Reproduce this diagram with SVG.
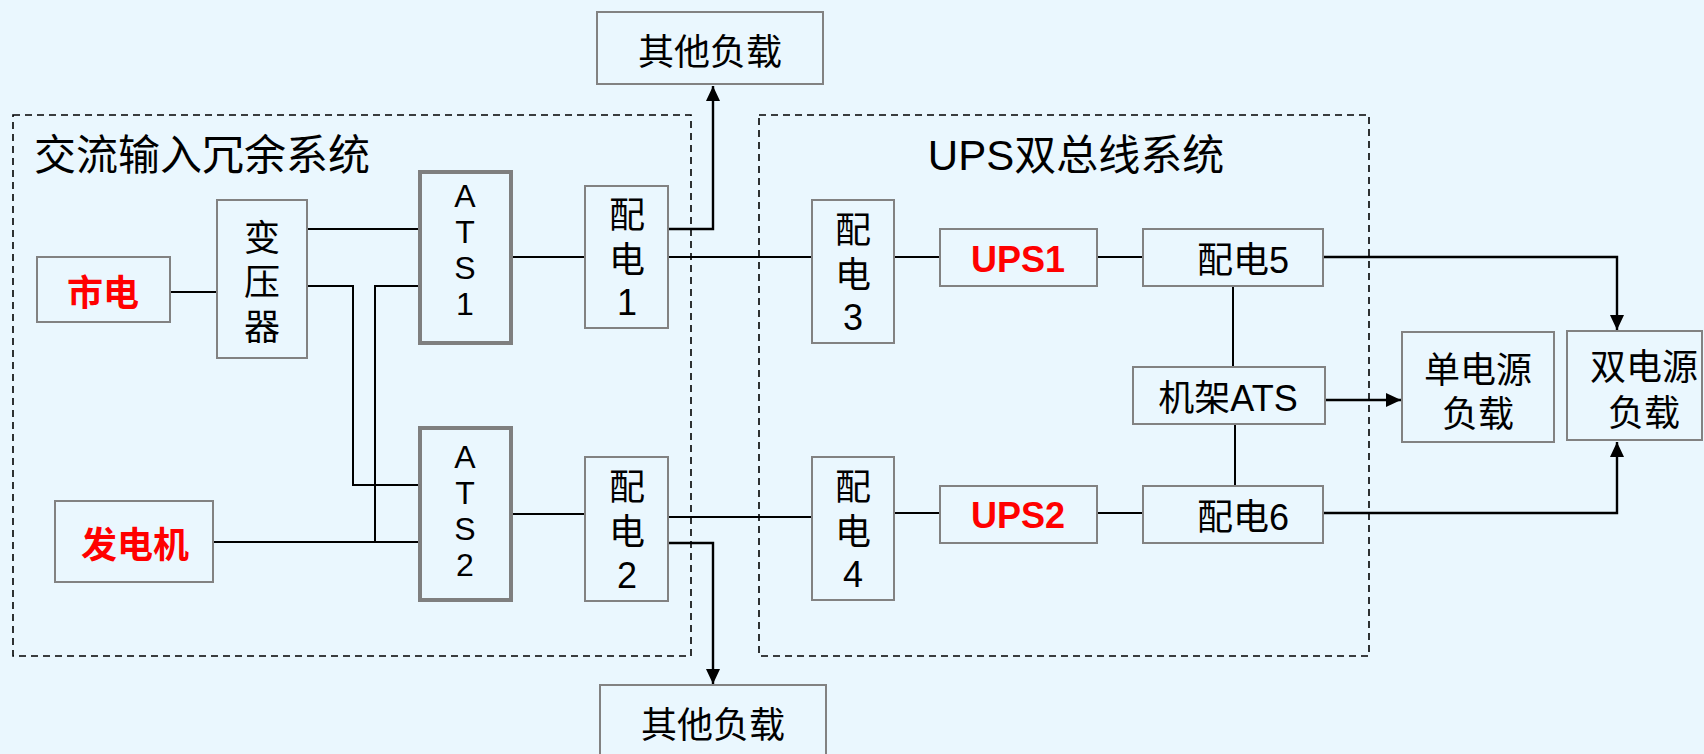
<svg xmlns="http://www.w3.org/2000/svg" width="1704" height="754" viewBox="0 0 1704 754">
<defs>
<marker id="arr" markerUnits="userSpaceOnUse" markerWidth="16" markerHeight="16" refX="15" refY="7" orient="auto">
<path d="M0,0 L15,7 L0,14 z" fill="#000"/>
</marker>
<style>
text{font-family:"Liberation Sans","Noto Sans CJK SC",sans-serif;font-size:36px;fill:#000;text-anchor:middle}
.t{font-size:42px}
.a{font-size:32px}
.red{fill:#f00;font-weight:bold}
.box{fill:none;stroke:#828282;stroke-width:2}
.ats{fill:none;stroke:#7f7f7f;stroke-width:4}
.dash{fill:none;stroke:#000;stroke-width:1.6;stroke-dasharray:7 5}
.ln{fill:none;stroke:#000;stroke-width:2}
.ar{fill:none;stroke:#000;stroke-width:2.4;marker-end:url(#arr)}
</style>
</defs>
<rect x="0" y="0" width="1704" height="754" fill="#eaf7fe"/>
<rect class="dash" x="13" y="115" width="678" height="541"/>
<rect class="dash" x="759" y="115" width="610" height="541"/>
<text class="t" x="34" y="170" style="text-anchor:start">交流输入冗余系统</text>
<text class="t" x="1076" y="170">UPS双总线系统</text>
<g id="connectors">
<path class="ln" d="M170 292 H217"/>
<path class="ln" d="M307 229 H420"/>
<path class="ln" d="M307 286 H353 V485 H420"/>
<path class="ln" d="M213 542 H420"/>
<path class="ln" d="M375 542 V286 H420"/>
<path class="ln" d="M511 257 H585"/>
<path class="ln" d="M511 514 H585"/>
<path class="ar" d="M668 229 H713 V86"/>
<path class="ln" d="M668 257 H812"/>
<path class="ln" d="M668 517 H812"/>
<path class="ar" d="M668 543 H713 V684"/>
<path class="ln" d="M894 257 H940"/>
<path class="ln" d="M894 513 H940"/>
<path class="ln" d="M1097 257 H1143"/>
<path class="ln" d="M1097 513 H1143"/>
<path class="ar" d="M1323 257 H1617 V330"/>
<path class="ar" d="M1323 513 H1617 V442"/>
<path class="ln" d="M1233 286 V367"/>
<path class="ln" d="M1235 424 V486"/>
<path class="ar" d="M1325 400 H1401"/>
</g>
<g id="other1"><rect class="box" x="597" y="12" width="226" height="72"/><text x="710" y="65">其他负载</text></g>
<g id="mains"><rect class="box" x="37" y="257" width="133" height="65"/><text class="red" x="103" y="306">市电</text></g>
<g id="transformer"><rect class="box" x="217" y="200" width="90" height="158"/><text x="262" y="251">变<tspan x="262" y="295">压</tspan><tspan x="262" y="340">器</tspan></text></g>
<g id="ats1"><rect class="ats" x="420" y="172" width="91" height="171"/><text class="a" x="465" y="207">A<tspan x="465" y="243">T</tspan><tspan x="465" y="279">S</tspan><tspan x="465" y="315">1</tspan></text></g>
<g id="pd1"><rect class="box" x="585" y="186" width="83" height="142"/><text x="627" y="228">配<tspan x="627" y="273">电</tspan><tspan x="627" y="315">1</tspan></text></g>
<g id="generator"><rect class="box" x="55" y="501" width="158" height="81"/><text class="red" x="135" y="558">发电机</text></g>
<g id="ats2"><rect class="ats" x="420" y="428" width="91" height="172"/><text class="a" x="465" y="468">A<tspan x="465" y="504">T</tspan><tspan x="465" y="540">S</tspan><tspan x="465" y="576">2</tspan></text></g>
<g id="pd2"><rect class="box" x="585" y="457" width="83" height="144"/><text x="627" y="500">配<tspan x="627" y="545">电</tspan><tspan x="627" y="588">2</tspan></text></g>
<g id="pd3"><rect class="box" x="812" y="200" width="82" height="143"/><text x="853" y="243">配<tspan x="853" y="288">电</tspan><tspan x="853" y="330">3</tspan></text></g>
<g id="pd4"><rect class="box" x="812" y="457" width="82" height="143"/><text x="853" y="500">配<tspan x="853" y="545">电</tspan><tspan x="853" y="587">4</tspan></text></g>
<g id="ups1"><rect class="box" x="940" y="229" width="157" height="57"/><text class="red" x="1018" y="272">UPS1</text></g>
<g id="ups2"><rect class="box" x="940" y="486" width="157" height="57"/><text class="red" x="1018" y="528">UPS2</text></g>
<g id="pd5"><rect class="box" x="1143" y="229" width="180" height="57"/><text x="1243" y="273">配电5</text></g>
<g id="pd6"><rect class="box" x="1143" y="486" width="180" height="57"/><text x="1243" y="530">配电6</text></g>
<g id="rackats"><rect class="box" x="1133" y="367" width="192" height="57"/><text x="1228" y="411">机架ATS</text></g>
<g id="single"><rect class="box" x="1402" y="332" width="152" height="110"/><text x="1478" y="383">单电源<tspan x="1478" y="427">负载</tspan></text></g>
<g id="dual"><rect class="box" x="1567" y="331" width="135" height="109"/><text x="1644" y="380">双电源<tspan x="1644" y="426">负载</tspan></text></g>
<g id="other2"><rect class="box" x="600" y="685" width="226" height="80"/><text x="713" y="738">其他负载</text></g>
</svg>
